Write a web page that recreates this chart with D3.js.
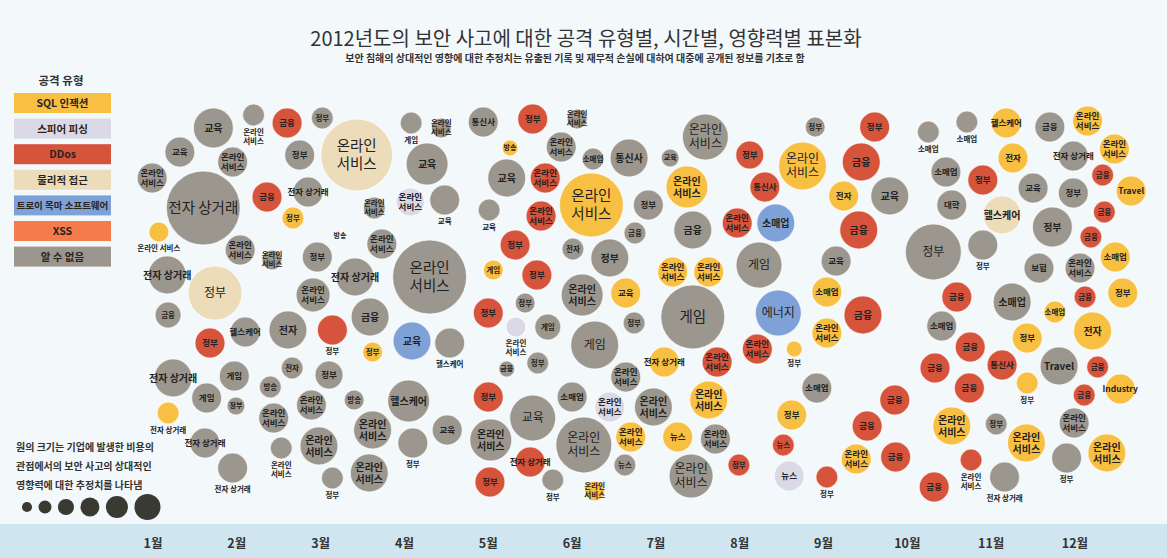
<!DOCTYPE html>
<html>
<head>
<meta charset="utf-8">
<script src="https://cdn.jsdelivr.net/npm/d3@7"></script>
<style>
body { margin: 0; background: #f3f8fb; }
svg { display: block; font-family: "Noto Sans CJK KR", "Noto Sans", sans-serif; }
</style>
</head>
<body>
<svg id="chart" width="1167" height="558"></svg>
<script>
"use strict";

var months = ["1월", "2월", "3월", "4월", "5월", "6월", "7월", "8월", "9월", "10월", "11월", "12월"];

var typeCodes  = ["S", "P", "D", "F", "T", "X", "U"];
var typeNames  = ["SQL 인젝션", "스피어 피싱", "DDos", "물리적 접근", "트로이 목마 소프트웨어", "XSS", "알 수 없음"];
var typeColors = ["#f8c043", "#dcd9e7", "#d6533c", "#ecdcba", "#7ea2d8", "#f47c4c", "#9c978e"];

// relative impact values shown in the size key
var legendSizes = [1.6, 2.6, 4, 5.6, 7.6, 10.6];

var noteLines = ["원의 크기는 기업에 발생한 비용의", "관점에서의 보안 사고의 상대적인", "영향력에 대한 추정치를 나타냄"];

// [month (fractional), lane, estimated impact, attack type, target, label under circle]
var incidents = [
    [1.60,113,85.6,"U","전자 상거래"], [1.72,33,25,"U","교육"], [2.20,20,7.6,"U","온라인\n서비스",1],
    [2.60,28,14.1,"D","금융"], [3.02,23,7.6,"U","정부"], [1.32,57,14.1,"U","교육"],
    [1.95,67,14.1,"U","온라인\n서비스"], [2.75,60,14.1,"U","정부"], [0.99,83,14.1,"U","온라인\n서비스"],
    [2.36,102,14.1,"D","금융"], [2.85,97,14.1,"U","전자 상거래"], [2.67,123,7.6,"S","정부"],
    [1.07,137,6.3,"S","온라인 서비스",1], [2.04,155,14.1,"U","온라인\n서비스"], [2.42,165,6.3,"U","온라인\n서비스"],
    [2.96,162,14.1,"U","정부"], [1.17,180,22.6,"U","전자 상거래"], [1.74,198,45.6,"F","정부"],
    [2.91,200,18.1,"U","온라인\n서비스"], [1.18,220,10.6,"U","금융"], [1.68,248,14.1,"D","정부"],
    [2.10,237,14.1,"U","헬스케어"], [2.61,235,22.6,"U","전자"], [3.14,235,14.1,"D","정부",1],
    [1.24,283,22.6,"U","전자 상거래"], [1.97,281,14.1,"U","게임"], [1.64,303,14.1,"U","게임"],
    [1.99,311,5.1,"U","정부"], [2.66,273,7.6,"U","전자"], [2.40,292,7.6,"U","방송"],
    [2.44,323,14.1,"U","온라인\n서비스"], [2.89,310,14.1,"U","온라인\n서비스"], [3.10,280,12.3,"U","정부"],
    [1.18,318,7.6,"S","전자 상거래",1], [1.62,348,14.1,"U","전자 상거래"], [1.95,373,14.1,"U","전자 상거래",1],
    [2.53,353,7.6,"U","온라인\n서비스",1], [2.98,351,22.6,"U","온라인\n서비스"], [3.14,383,7.6,"U","정부",1],

    [3.43,60,81,"F","온라인\n서비스"], [4.08,28,7.6,"U","게임",1], [4.44,33,6.3,"U","온라인\n서비스"],
    [4.94,27,14.1,"U","통신사"], [5.53,24,14.1,"D","정부"], [5.26,53,4,"S","방송"],
    [4.27,69,27.6,"U","교육"], [5.22,83,22.6,"U","교육"], [5.68,83,14.1,"D","온라인\n서비스"],
    [4.07,107,12.3,"P","온라인\n서비스"], [4.48,105,14.1,"U","교육",1], [3.64,113,7.6,"U","온라인\n서비스"],
    [5.01,115,7.6,"U","교육",1], [5.63,121,14.1,"D","온라인\n서비스"], [3.73,149,14.1,"U","온라인\n서비스"],
    [5.32,150,14.1,"D","정부"], [4.30,182,85.6,"U","온라인\n서비스"], [3.41,182,22.6,"U","전자 상거래"],
    [5.06,175,6.3,"S","게임"], [5.58,180,14.1,"D","정부"], [5.44,208,6.3,"U","정부"],
    [5.00,218,14.1,"D","정부"], [3.59,222,22.6,"U","금융"], [3.62,257,6.3,"S","정부"],
    [4.09,246,22.6,"T","교육"], [4.54,248,14.1,"U","헬스케어",1], [5.33,232,6.3,"P","온라인\n서비스",1],
    [5.22,274,4,"U","금융"], [5.71,232,10.6,"U","게임"], [5.59,268,7.6,"U","정부"],
    [3.40,305,6.3,"U","방송"], [4.05,306,27.6,"U","헬스케어"], [3.62,335,22.6,"U","온라인\n서비스"],
    [4.51,335,14.1,"U","교육"], [4.10,348,14.1,"U","정부",1], [5.00,302,14.1,"D","정부"],
    [5.03,345,27.6,"U","온라인\n서비스"], [5.53,323,33.1,"U","교육"], [5.50,367,14.1,"D","전자 상거래"],
    [5.02,387,14.1,"D","정부"], [3.58,378,22.6,"U","온라인\n서비스"], [5.77,385,7.6,"U","정부",1],
    [3.23,141,0,"U","방송"],

    [6.06,24,6.3,"U","온라인\n서비스"], [5.87,52,14.1,"U","온라인\n서비스"], [6.25,64,7.6,"U","소매업"],
    [6.68,63,22.6,"U","통신사"], [7.17,63,5.1,"U","교육"], [7.59,42,33.1,"U","온라인\n서비스"],
    [8.12,60,12.3,"D","정부"], [6.23,110,64,"S","온라인\n서비스"], [7.37,92,27.6,"S","온라인\n서비스"],
    [6.91,110,14.1,"U","정부"], [6.75,138,7.6,"U","금융"], [7.44,135,22.6,"U","금융"],
    [7.97,128,14.1,"D","온라인\n서비스"], [6.01,154,7.6,"U","전자"], [6.45,163,22.6,"U","정부"],
    [7.20,177,14.1,"S","온라인\n서비스"], [7.63,177,14.1,"S","온라인\n서비스"], [8.23,170,33.1,"U","게임"],
    [6.12,200,27.6,"U","온라인\n서비스"], [6.64,198,14.1,"S","교육"], [7.44,222,64,"U","게임"],
    [6.74,228,7.6,"U","정부"], [6.27,250,36,"U","게임"], [7.10,267,14.1,"S","전자 상거래"],
    [7.73,267,14.1,"D","온라인\n서비스"], [8.21,254,14.1,"D","온라인\n서비스"], [6.64,282,14.1,"U","온라인\n서비스"],
    [7.63,305,22.6,"S","온라인\n서비스"], [6.00,302,14.1,"U","소매업"], [6.45,312,14.1,"P","온라인\n서비스"],
    [6.97,312,22.6,"U","온라인\n서비스"], [6.70,342,14.1,"S","온라인\n서비스"], [7.26,342,14.1,"S","뉴스"],
    [7.71,344,14.1,"U","온라인\n서비스"], [6.14,350,49,"U","온라인\n서비스"], [6.63,370,7.6,"U","뉴스"],
    [7.99,370,7.6,"D","정부"], [7.42,381,30.3,"U","온라인\n서비스"], [6.27,396,6.3,"S","온라인\n서비스"],

    [8.90,32,6.3,"U","정부"], [9.61,32,14.1,"D","정부"], [10.25,37,7.6,"U","소매업",1],
    [10.71,27,7.6,"U","소매업",1], [8.75,71,36,"S","온라인\n서비스"], [8.30,92,14.1,"D","통신사"],
    [9.45,67,22.6,"D","금융"], [9.24,101,14.1,"S","전자"], [9.79,101,22.6,"U","교육"],
    [10.46,77,14.1,"U","소매업"], [10.53,110,14.1,"U","대학"], [8.43,128,22.6,"T","소매업"],
    [9.42,135,22.6,"D","금융"], [10.31,157,49,"U","정부"], [9.15,166,14.1,"U","교육"],
    [9.04,197,14.1,"S","소매업"], [8.46,218,33.1,"T","에너지"], [9.47,220,22.6,"D","금융"],
    [10.59,202,14.1,"D","금융"], [9.04,238,14.1,"S","온라인\n서비스"], [8.65,254,4,"S","정부",1],
    [8.92,293,14.1,"U","소매업"], [10.41,231,14.1,"U","소매업"], [10.75,252,14.1,"D","금융"],
    [10.33,273,14.1,"D","금융"], [10.74,293,14.1,"D","금융"], [9.85,305,14.1,"D","금융"],
    [8.62,320,14.1,"S","정부"], [9.52,331,14.1,"D","금융"], [10.53,331,22.6,"S","온라인\n서비스"],
    [8.52,350,7.6,"D","뉴스"], [9.39,364,14.1,"S","온라인\n서비스"], [9.86,362,14.1,"D","금융"],
    [10.76,365,7.6,"D","온라인\n서비스",1], [8.59,381,14.1,"P","뉴스"], [9.04,382,7.6,"D","정부",1],
    [10.32,392,14.1,"D","금융"],

    [11.18,28,14.1,"S","헬스케어"], [11.70,32,14.1,"U","금융"], [12.15,26,14.1,"S","온라인\n서비스"],
    [11.26,63,14.1,"S","전자"], [11.98,61,14.1,"U","전자 상거래"], [12.47,54,14.1,"S","온라인\n서비스"],
    [10.90,85,14.1,"D","정부"], [11.50,93,14.1,"U","교육"], [11.98,98,14.1,"U","정부"],
    [12.33,80,7.6,"D","금융"], [12.67,96,14.1,"S","Travel"], [11.13,120,22.6,"F","헬스케어"],
    [11.73,132,25,"U","정부"], [12.35,117,7.6,"D","금융"], [12.19,142,7.6,"D","금융"],
    [10.90,150,14.1,"U","정부",1], [11.57,173,14.1,"U","보험"], [12.06,173,14.1,"U","온라인\n서비스"],
    [12.48,162,14.1,"S","소매업"], [11.25,207,22.6,"U","소매업"], [12.12,202,7.6,"D","금융"],
    [12.57,198,14.1,"S","정부"], [11.76,217,7.6,"S","소매업"], [11.43,243,14.1,"S","정부"],
    [12.21,236,22.6,"S","전자"], [11.13,270,14.1,"D","통신사"], [11.81,271,22.6,"U","Travel"],
    [12.27,272,7.6,"D","금융"], [11.43,288,7.6,"S","정부",1], [12.11,300,7.6,"D","금융"],
    [12.54,294,14.1,"S","Industry"], [11.06,329,7.6,"U","정부"], [11.42,348,22.6,"S","온라인\n서비스"],
    [11.99,328,14.1,"U","온라인\n서비스"], [11.90,363,14.1,"U","정부",1], [12.38,358,22.6,"S","온라인\n서비스"],
    [11.16,382,14.1,"U","전자 상거래",1]
];

var width = 1167, height = 558;
var svg = d3.select("#chart");

var x = d3.scaleLinear().domain([1, 12]).range([153, 1075]);
var y = d3.scaleLinear().domain([0, 430]).range([95, 525]);
var r = d3.scaleSqrt().domain([0, 100]).range([0, 40]);
var color = d3.scaleOrdinal().domain(typeCodes).range(typeColors);

var labelSize = function (rad) {
    if (rad >= 30) return 14.5;
    if (rad >= 22) return 12;
    if (rad >= 18) return 10;
    if (rad >= 14) return 8.5;
    if (rad >= 10) return 7.5;
    return 7;
};

svg.append("rect")
    .attr("width", width).attr("height", height)
    .attr("fill", "#f3f8fb");

// title
svg.append("text")
    .attr("x", 586).attr("y", 46)
    .attr("text-anchor", "middle")
    .attr("font-size", 20)
    .attr("fill", "#333")
    .text("2012년도의 보안 사고에 대한 공격 유형별, 시간별, 영향력별 표본화");

svg.append("text")
    .attr("x", 575).attr("y", 62)
    .attr("text-anchor", "middle")
    .attr("font-size", 10)
    .attr("font-weight", "bold")
    .attr("fill", "#333")
    .text("보안 침해의 상대적인 영향에 대한 추정치는 유출된 기록 및 재무적 손실에 대하여 대중에 공개된 정보를 기초로 함");

// month band
svg.append("rect")
    .attr("x", 0).attr("y", 524)
    .attr("width", width).attr("height", height - 524)
    .attr("fill", "#cfe5ef");

svg.append("g")
    .selectAll("text")
    .data(months)
    .join("text")
    .attr("x", function (d, i) { return x(i + 1); })
    .attr("y", 548)
    .attr("text-anchor", "middle")
    .attr("font-size", 12.5)
    .attr("font-weight", "bold")
    .attr("fill", "#333")
    .text(function (d) { return d; });

// bubbles
var nodes = incidents.map(function (d) {
    return {
        cx: x(d[0]), cy: y(d[1]), r: r(d[2]),
        type: d[3], label: d[4], below: !!d[5]
    };
});

svg.append("g")
    .selectAll("circle")
    .data(nodes.filter(function (d) { return d.r > 0; }))
    .join("circle")
    .attr("cx", function (d) { return d.cx; })
    .attr("cy", function (d) { return d.cy; })
    .attr("r", function (d) { return d.r; })
    .attr("fill", function (d) { return color(d.type); })
    .attr("stroke", "rgba(255,255,255,0.65)")
    .attr("stroke-width", 1.2);

var labels = svg.append("g")
    .selectAll("text")
    .data(nodes)
    .join("text")
    .attr("text-anchor", "middle")
    .attr("fill", "#222")
    .attr("font-size", function (d) { return d.below ? 7.5 : labelSize(d.r); })
    .attr("font-weight", function (d) { return (d.below || labelSize(d.r) < 12) ? "bold" : "normal"; })
    .attr("x", function (d) { return d.cx; })
    .attr("y", function (d) {
        return d.below ? d.cy + d.r + 9 : d.cy;
    });

labels.each(function (d) {
    var lines = d.label.split("\n");
    var sel = d3.select(this);
    lines.forEach(function (line, i) {
        var dy;
        if (d.below) {
            dy = i === 0 ? 0 : 1.2;
        } else {
            dy = i === 0 ? (0.35 - (lines.length - 1) * 0.6) : 1.2;
        }
        sel.append("tspan")
            .attr("x", d.cx)
            .attr("dy", dy + "em")
            .text(line);
    });
});

// legend: attack types
var legend = svg.append("g");

legend.append("text")
    .attr("x", 61).attr("y", 85)
    .attr("text-anchor", "middle")
    .attr("font-size", 11.5)
    .attr("font-weight", "bold")
    .attr("fill", "#333")
    .text("공격 유형");

var items = legend.selectAll("g.item")
    .data(typeNames)
    .join("g")
    .attr("class", "item")
    .attr("transform", function (d, i) { return "translate(14," + (93 + i * 25.6) + ")"; });

items.append("rect")
    .attr("width", 97).attr("height", 20)
    .attr("fill", function (d, i) { return typeColors[i]; });

items.append("text")
    .attr("x", 48.5).attr("y", 14)
    .attr("text-anchor", "middle")
    .attr("font-size", function (d) { return d.length > 8 ? 9.5 : 10.5; })
    .attr("font-weight", "bold")
    .attr("fill", "#2a2420")
    .text(function (d) { return d; });

// legend: circle sizes
legend.append("g")
    .selectAll("text")
    .data(noteLines)
    .join("text")
    .attr("x", 16)
    .attr("y", function (d, i) { return 451 + i * 19; })
    .attr("font-size", 10)
    .attr("font-weight", "bold")
    .attr("fill", "#333")
    .text(function (d) { return d; });

var keyX = [];
legendSizes.reduce(function (pos, v, i) {
    var rad = r(v);
    var cx = i === 0 ? 27 : pos + rad + 6.5;
    keyX.push(cx);
    return cx + rad;
}, 0);

legend.append("g")
    .selectAll("circle")
    .data(legendSizes)
    .join("circle")
    .attr("cx", function (d, i) { return keyX[i]; })
    .attr("cy", 507)
    .attr("r", function (d) { return r(d); })
    .attr("fill", "#3b3a32");
</script>
</body>
</html>
